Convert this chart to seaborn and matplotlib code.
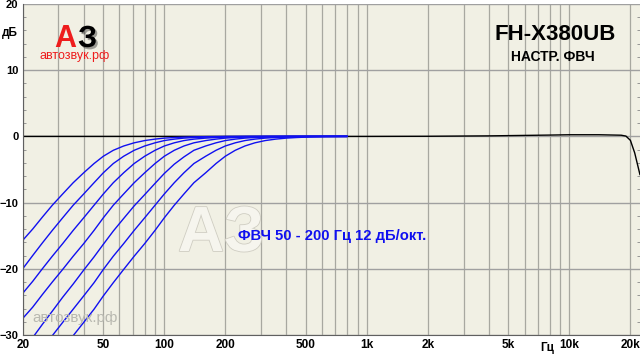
import numpy as np
import pandas as pd
import matplotlib
matplotlib.use('Agg')
import matplotlib.pyplot as plt
import matplotlib.patheffects as pe
import seaborn as sns

# 1/6-octave frequencies where the filter curves were read
freqs = [20, 22.4, 25, 28, 31.5, 35.5, 40, 45, 50, 56, 63, 71, 80, 90, 100, 112, 125,
         140, 160, 180, 200, 224, 250, 280, 315, 355, 400, 450, 500, 560, 630, 710, 800]
hpf_labels = ['50', '63', '80', '100', '125', '160', '200']
hpf_50 = [-15.7, -14.0, -12.2, -10.4, -8.7, -7.0, -5.5, -4.1, -3.0, -2.1, -1.45, -0.97,
          -0.63, -0.41, -0.26, -0.17, -0.11, -0.07, -0.04, -0.02,
          0, 0, 0, 0, 0, 0, 0, 0, 0, 0, 0, 0, 0]
hpf_63 = [-20.0, -18.0, -16.1, -14.2, -12.3, -10.4, -8.7, -7.0, -5.5, -4.1, -3.0, -2.1,
          -1.45, -0.97, -0.63, -0.41, -0.26, -0.17, -0.11, -0.07, -0.04, -0.02,
          0, 0, 0, 0, 0, 0, 0, 0, 0, 0, 0]
hpf_80 = [-23.7, -21.9, -20.0, -18.1, -16.2, -14.2, -12.3, -10.4, -8.7, -7.0, -5.5, -4.1,
          -3.0, -2.1, -1.45, -0.97, -0.63, -0.41, -0.26, -0.17, -0.11, -0.07, -0.04, -0.02,
          0, 0, 0, 0, 0, 0, 0, 0, 0]
hpf_100 = [-27.5, -25.8, -23.9, -22.0, -20.1, -18.1, -16.2, -14.2, -12.3, -10.4, -8.7, -7.0,
           -5.5, -4.1, -3.0, -2.1, -1.45, -0.97, -0.63, -0.41, -0.26, -0.17, -0.11, -0.07,
           -0.04, -0.02, 0, 0, 0, 0, 0, 0, 0]
hpf_125 = [-32.3, -30.4, -28.4, -26.4, -24.3, -22.3, -20.2, -18.2, -16.3, -14.3, -12.4, -10.5,
           -8.8, -7.1, -5.6, -4.2, -3.1, -2.1, -1.45, -0.97, -0.63, -0.41, -0.26, -0.17,
           -0.11, -0.07, -0.04, -0.02, 0, 0, 0, 0, 0]
hpf_160 = [-36.1, -34.1, -32.1, -30.1, -28.1, -26.1, -24.1, -22.1, -20.1, -18.1, -16.2, -14.2,
           -12.3, -10.4, -8.7, -7.0, -5.5, -4.1, -3.0, -2.1, -1.45, -0.97, -0.63, -0.41,
           -0.26, -0.17, -0.11, -0.07, -0.04, -0.02, 0, 0, 0]
hpf_200 = [-40.1, -38.1, -36.1, -34.1, -32.1, -30.1, -28.1, -26.1, -24.1, -22.1, -20.1, -18.1,
           -16.2, -14.2, -12.3, -10.4, -8.7, -7.0, -5.5, -4.1, -3.0, -2.1, -1.45, -0.97,
           -0.63, -0.41, -0.26, -0.17, -0.11, -0.07, -0.04, -0.02, 0]

# response with filter off
flat_freqs = [20, 100, 1000, 2000, 4000, 6000, 8000, 10000, 14000, 18000, 19000, 20000, 21000, 22300]
flat_db = [0, 0, 0, 0.02, 0.08, 0.15, 0.2, 0.25, 0.25, 0.18, 0.05, -0.6, -2.5, -5.8]

xtick_vals = [20, 50, 100, 200, 500, 1000, 2000, 5000, 10000, 20000]
xtick_labels = ['20', '50', '100', '200', '500', '1k', '2k', '5k', '10k', '20k']
xgrid_vals = [20, 30, 40, 50, 60, 70, 80, 90, 100, 200, 300, 400, 500, 600, 700, 800, 900,
              1000, 2000, 3000, 4000, 5000, 6000, 7000, 8000, 9000, 10000, 20000]
ytick_vals = [-30, -20, -10, 0, 10, 20]

curves = [hpf_50, hpf_63, hpf_80, hpf_100, hpf_125, hpf_160, hpf_200]
df = pd.concat([pd.DataFrame({'freq': freqs, 'db': c, 'hpf': lab})
                for lab, c in zip(hpf_labels, curves)], ignore_index=True)
flat = pd.DataFrame({'freq': flat_freqs, 'db': flat_db})

sns.set_style('white', {'axes.facecolor': '#f1f0e4'})
plt.rcParams['font.family'] = ['Liberation Sans', 'DejaVu Sans']
plt.rcParams['text.color'] = 'black'
plt.rcParams['xtick.color'] = 'black'
plt.rcParams['ytick.color'] = 'black'

W, H = 640, 354
fig = plt.figure(figsize=(6.4, 3.54), dpi=100)
ax = fig.add_axes([22.7 / W, 19 / H, (W - 22.7) / W, 331 / H])

sns.lineplot(data=flat, x='freq', y='db', color='black', lw=1.0, ax=ax,
             estimator=None, sort=False)
sns.lineplot(data=df, x='freq', y='db', hue='hpf', palette=['#1010f0'] * 7,
             lw=1.0, ax=ax, estimator=None, sort=False, legend=False)

ax.set_xscale('log')
ax.set_xlim(20, 22300)
ax.set_ylim(-30, 20)
ax.set_xticks(xtick_vals)
ax.set_xticklabels(xtick_labels)
ax.set_xticks([v for v in xgrid_vals if v not in xtick_vals], minor=True)
ax.set_xticklabels([], minor=True)
ax.set_yticks(ytick_vals)
ax.set_yticks(np.arange(-30, 21, 2), minor=True)
ax.set_xlabel('')
ax.set_ylabel('')

ax.grid(axis='x', which='both', color='#a8a8a0', lw=0.9)
ax.grid(axis='y', which='major', color='#a0a0a0', lw=1.0)
ax.set_axisbelow(True)

ax.tick_params(axis='x', which='both', length=0, pad=3, labelsize=8.5)
ax.tick_params(axis='y', which='major', length=0, pad=3, labelsize=8)
ax.tick_params(axis='y', which='minor', length=2.5, direction='in', left=True,
               right=True, color='#888888', width=0.6)
for lab in ax.get_xticklabels() + ax.get_yticklabels():
    lab.set_fontweight('bold')
for lab in ax.get_yticklabels():
    lab.set_family(['Liberation Sans Narrow', 'Liberation Sans', 'DejaVu Sans'])

for s in ['top', 'right']:
    ax.spines[s].set_visible(False)
ax.spines['left'].set_color('#606060')
ax.spines['bottom'].set_color('#606060')

def px(x, y):
    return x / W, 1 - y / H

# axis units
fig.text(*px(2, 33), 'дБ', fontsize=8.5, fontweight='bold', va='center', ha='left')
fig.text(*px(547, 348), 'Гц', fontsize=8.5, fontweight='bold', va='center', ha='center')

# title
fig.text(*px(555, 35), 'FH-X380UB', fontsize=16, fontweight='bold', va='center', ha='center')
fig.text(*px(553, 57), 'НАСТР. ФВЧ', fontsize=10, fontweight='bold', va='center', ha='center')

# filter annotation
fig.text(*px(238, 236), 'ФВЧ 50 - 200 Гц 12 дБ/окт.', fontsize=10.6, fontweight='bold',
         color='#1010f0', va='center', ha='left')

# logo
fig.text(*px(54, 47), 'А', fontsize=22, fontweight='bold', color='#ee1c1c',
         va='baseline', ha='left')
fig.text(*px(78, 47), 'З', fontsize=22, fontweight='bold', color='black',
         va='baseline', ha='left',
         path_effects=[pe.SimplePatchShadow(offset=(1.5, -1.5), alpha=0.35), pe.Normal()])
fig.text(*px(39, 56), 'автозвук.рф', fontsize=9, color='#ee1c1c', va='center', ha='left')

# watermarks
fig.text(*px(178, 234), 'АЗ', fontsize=46, fontweight='bold', color='#f6f5ee',
         va='center', ha='left', zorder=0.5,
         path_effects=[pe.withStroke(linewidth=1.2, foreground='#cfcdc2')])
fig.text(*px(32, 318), 'автозвук.рф', fontsize=11, color='#b8b8b0', va='center', ha='left')

fig.savefig('out.png', dpi=100)
